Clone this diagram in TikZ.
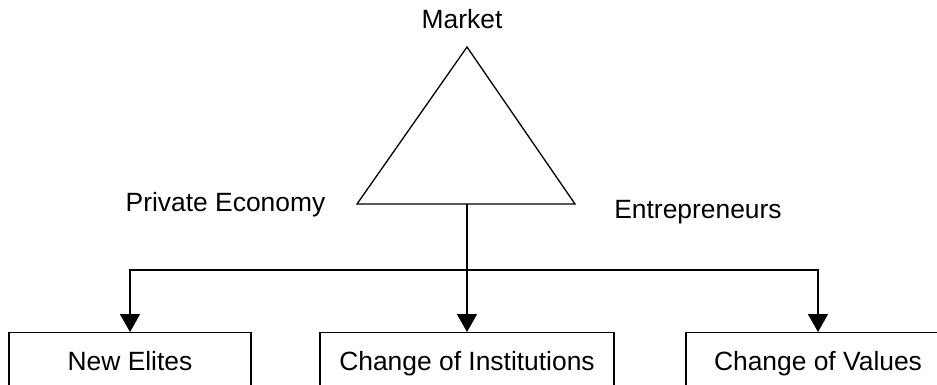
\documentclass[tikz,border=0pt]{standalone}
\usepackage{fontspec}
\setmainfont{Liberation Sans}
\usetikzlibrary{arrows.meta}
\begin{document}
\begin{tikzpicture}[x=1pt,y=-1pt,
  lbl/.style={inner sep=0pt, anchor=base, font=\fontsize{26.4}{30}\selectfont},
  box/.style={draw, line width=1.3pt, anchor=north, minimum height=56pt, inner sep=0pt, text height=20pt, text depth=0pt, font=\fontsize{26.4}{30}\selectfont},
  conn/.style={line width=1.5pt},
  arr/.style={conn, -{Triangle[width=20pt,length=18pt]}}]
\useasboundingbox (0,0) rectangle (937,385);
\clip (0,0) rectangle (937,385);
% triangle
\coordinate (apex) at (467,47);
\coordinate (bl) at (357,204);
\coordinate (br) at (575,204);
\coordinate (stem) at (467,204);
\coordinate (junc) at (467,270);
\draw[line width=1.3pt, line join=miter] (apex) -- (bl) -- (br) -- cycle;
% labels
\node[lbl] (market) at (462,29) {Market};
\node[lbl] (priv) at (225.5,211.5) {Private Economy};
\node[lbl] (entr) at (698,218) {Entrepreneurs};
% boxes
\node[box, minimum width=242pt] (b1) at (130,332) {New Elites};
\node[box, minimum width=294pt] (b2) at (467,332) {Change of Institutions};
\node[box, minimum width=264pt] (b3) at (818,332) {Change of Values};
% connectors
\draw[conn] (stem) -- (junc);
\draw[arr] (junc) -- (b2.north);
\draw[arr] (junc) -| (b1.north);
\draw[arr] (junc) -| (b3.north);
\end{tikzpicture}
\end{document}
